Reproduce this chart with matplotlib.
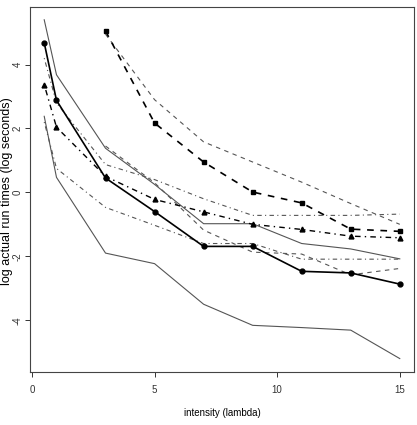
import matplotlib
matplotlib.use("Agg")
import matplotlib.pyplot as plt

plt.rcParams['font.family'] = ['Liberation Sans', 'DejaVu Sans']

# data
x_all = [0.5, 1, 3, 5, 7, 9, 11, 13, 15]
x_sq = [3, 5, 7, 9, 11, 13, 15]

circles = [4.68, 2.88, 0.45, -0.60, -1.69, -1.69, -2.47, -2.52, -2.87]
solid_upper = [5.40, 3.68, 1.38, 0.25, -0.98, -0.98, -1.60, -1.77, -2.08]
solid_lower = [2.38, 0.47, -1.90, -2.23, -3.50, -4.16, -4.23, -4.31, -5.20]

squares = [5.05, 2.17, 0.95, 0.01, -0.33, -1.15, -1.22]
dashed_upper = [4.95, 2.90, 1.58, 0.95, 0.32, -0.35, -1.00]
dashed_lower = [1.45, 0.30, -1.18, -1.87, -1.93, -2.58, -2.38]

triangles = [3.37, 2.04, 0.50, -0.22, -0.61, -1.00, -1.16, -1.37, -1.42]
dotdash_upper = [4.20, 2.80, 0.87, 0.40, -0.20, -0.72, -0.72, -0.72, -0.68]
dotdash_lower = [2.20, 0.75, -0.47, -1.03, -1.60, -1.60, -2.09, -2.09, -2.09]

xticks = [0, 5, 10, 15]
yticks = [-4, -2, 0, 2, 4]

fig = plt.figure(figsize=(4.17, 4.25), dpi=100)
ax = fig.add_axes([30/417, 1-372/425, 384/417, 365/425])

grey = '#555555'
dashed = (0, (4, 4))
dotdash = (0, (1, 3, 4, 3))

# bound lines
ax.plot(x_all, solid_upper, color=grey, lw=0.8, ls='-')
ax.plot(x_all, solid_lower, color=grey, lw=0.8, ls='-')
ax.plot(x_sq, dashed_upper, color=grey, lw=0.8, ls=dashed)
ax.plot(x_sq, dashed_lower, color=grey, lw=0.8, ls=dashed)
ax.plot(x_all, dotdash_upper, color=grey, lw=0.8, ls=dotdash)
ax.plot(x_all, dotdash_lower, color=grey, lw=0.8, ls=dotdash)

# main series
ax.plot(x_all, circles, color='black', lw=1.2, ls='-', marker='o', ms=3.5)
ax.plot(x_sq, squares, color='black', lw=1.2, ls=dashed, marker='s', ms=3.2)
ax.plot(x_all, triangles, color='black', lw=1.0, ls=dotdash, marker='^', ms=3.5)

ax.set_xlim(-0.08, 15.58)
ax.set_ylim(-5.62, 5.80)

ax.set_xticks(xticks)
ax.set_xticklabels([str(t) for t in xticks], fontsize=7)
ax.set_yticks(yticks)
ax.set_yticklabels([str(t) for t in yticks], fontsize=7, rotation=90,
                   va='center', ha='center')
ax.tick_params(axis='both', direction='out', length=3.6, width=0.7, colors='#333333')
ax.tick_params(axis='x', pad=5.5)
ax.tick_params(axis='y', pad=5.0)

for s in ax.spines.values():
    s.set_color('#444444')
    s.set_linewidth(0.8)

fig.text(222/417, 1-413/425, 'intensity (lambda)', fontsize=7, ha='center', va='center')
fig.text(7/417, 1-191/425, 'log actual run times (log seconds)', fontsize=9,
         ha='center', va='center', rotation=90)

fig.savefig('out.png', dpi=100)
